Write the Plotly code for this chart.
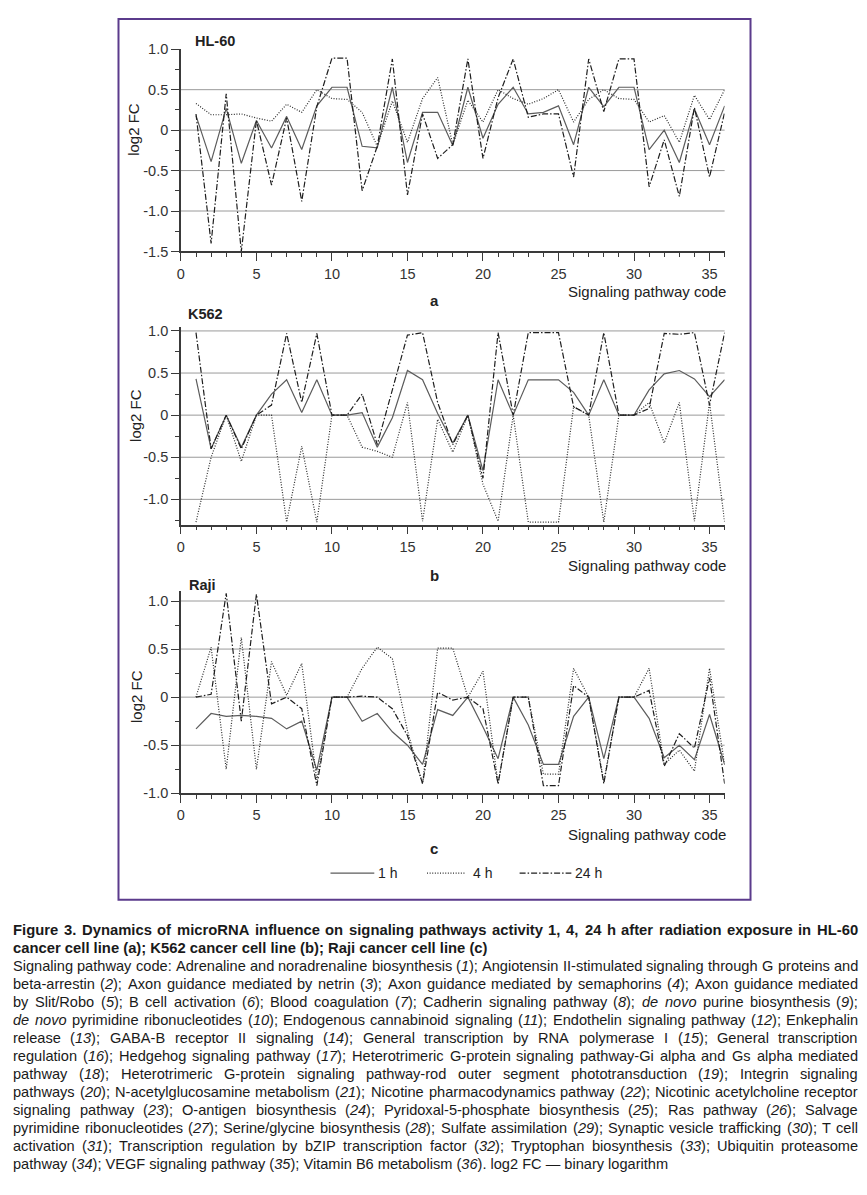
import re
import plotly.graph_objects as go

# ---------------- data ----------------
codes = list(range(1, 37))
time_labels = ["1 h", "4 h", "24 h"]
cell_lines = ["HL-60", "K562", "Raji"]
panel_letters = ["a", "b", "c"]
x_tick_values = [0, 5, 10, 15, 20, 25, 30, 35]

hl60_1h = [0.18, -0.39, 0.27, -0.41, 0.12, -0.22, 0.17, -0.24, 0.30, 0.53, 0.53, -0.20,
           -0.22, 0.53, -0.40, 0.22, 0.22, -0.19, 0.53, -0.10, 0.32, 0.53, 0.20, 0.22,
           0.30, -0.18, 0.53, 0.29, 0.53, 0.53, -0.24, 0.00, -0.40, 0.26, -0.18, 0.30]
hl60_4h = [0.33, 0.19, 0.19, 0.20, 0.15, 0.11, 0.32, 0.22, 0.50, 0.39, 0.38, 0.22,
           -0.20, 0.36, -0.15, 0.39, 0.65, -0.18, 0.37, 0.10, 0.50, 0.39, 0.32, 0.39,
           0.50, 0.10, 0.38, 0.50, 0.39, 0.38, 0.10, 0.18, -0.15, 0.43, 0.13, 0.50]
hl60_24h = [0.20, -1.40, 0.45, -1.50, 0.12, -0.68, 0.15, -0.88, 0.29, 0.89, 0.89, -0.75,
            -0.20, 0.88, -0.80, 0.20, -0.35, -0.18, 0.88, -0.35, 0.40, 0.88, 0.16, 0.20,
            0.20, -0.58, 0.88, 0.23, 0.88, 0.88, -0.70, -0.12, -0.82, 0.28, -0.58, 0.22]

k562_1h = [0.43, -0.40, 0.00, -0.38, 0.00, 0.25, 0.42, 0.03, 0.42, 0.00, 0.00, 0.03,
           -0.38, -0.03, 0.53, 0.42, 0.02, -0.33, 0.00, -0.66, 0.42, 0.00, 0.42, 0.42,
           0.42, 0.27, 0.00, 0.42, 0.00, 0.00, 0.30, 0.49, 0.53, 0.43, 0.22, 0.42]
k562_4h = [-1.27, -0.50, 0.00, -0.55, 0.00, 0.00, -1.27, -0.37, -1.27, 0.00, 0.00, -0.38,
           -0.43, -0.50, 0.15, -1.26, -0.05, -0.44, 0.00, -0.82, -1.26, 0.00, -1.27, -1.27,
           -1.27, 0.10, 0.00, -1.27, 0.00, 0.00, 0.15, -0.33, 0.15, -1.26, 0.15, -1.27]
k562_24h = [0.98, -0.40, 0.00, -0.40, 0.00, 0.12, 0.97, 0.15, 0.97, 0.00, 0.00, 0.25,
            -0.35, 0.30, 0.95, 0.98, 0.15, -0.35, 0.00, -0.75, 0.98, 0.00, 0.98, 0.98,
            0.98, 0.10, 0.00, 0.98, 0.00, 0.00, 0.08, 0.97, 0.96, 0.98, 0.12, 0.98]

raji_1h = [-0.33, -0.17, -0.20, -0.19, -0.20, -0.22, -0.33, -0.25, -0.76, 0.00, 0.00, -0.25,
           -0.17, -0.36, -0.50, -0.70, -0.13, -0.19, 0.00, -0.31, -0.64, 0.00, -0.29, -0.70,
           -0.70, -0.20, 0.00, -0.64, 0.00, 0.00, -0.22, -0.63, -0.50, -0.65, -0.18, -0.70]
raji_4h = [0.00, 0.52, -0.75, 0.62, -0.75, 0.37, 0.02, 0.35, -0.86, 0.00, 0.00, 0.30,
           0.52, 0.40, -0.35, -0.90, 0.51, 0.51, 0.00, 0.27, -0.90, 0.00, 0.00, -0.80,
           -0.80, 0.30, 0.00, -0.88, 0.00, 0.00, 0.30, -0.70, -0.55, -0.77, 0.30, -0.70]
raji_24h = [0.00, 0.03, 1.08, -0.25, 1.07, -0.07, 0.00, -0.12, -0.92, 0.00, 0.00, 0.01,
            0.00, -0.12, -0.40, -0.90, 0.05, -0.03, 0.00, -0.12, -0.90, 0.00, 0.00, -0.92,
            -0.92, 0.12, 0.00, -0.90, 0.00, 0.00, 0.07, -0.72, -0.38, -0.53, 0.20, -0.90]

series_by_panel = [
    [hl60_1h, hl60_4h, hl60_24h],
    [k562_1h, k562_4h, k562_24h],
    [raji_1h, raji_4h, raji_24h],
]
y_ranges = [[-1.5, 1.0], [-1.3, 1.05], [-1.0, 1.1]]
y_tick_values = [[-1.5, -1.0, -0.5, 0, 0.5, 1.0],
                 [-1.0, -0.5, 0, 0.5, 1.0],
                 [-1.0, -0.5, 0, 0.5, 1.0]]
grid_values = [[-1.0, -0.5, 0, 0.5],
               [-1.0, -0.5, 0, 0.5, 1.0],
               [-0.5, 0, 0.5, 1.0]]

caption_lines = [
    ("Figure 3. Dynamics of microRNA influence on signaling pathways activity 1, 4, 24 h after radiation exposure in HL-60", True, True),
    ("cancer cell line (a); K562 cancer cell line (b); Raji cancer cell line (c)", True, False),
    ("Signaling pathway code: Adrenaline and noradrenaline biosynthesis (<i>1</i>); Angiotensin II-stimulated signaling through G proteins and", False, True),
    ("beta-arrestin (<i>2</i>); Axon guidance mediated by netrin (<i>3</i>); Axon guidance mediated by semaphorins (<i>4</i>); Axon guidance mediated", False, True),
    ("by Slit/Robo (<i>5</i>); B cell activation (<i>6</i>); Blood coagulation (<i>7</i>); Cadherin signaling pathway (<i>8</i>); <i>de</i> <i>novo</i> purine biosynthesis (<i>9</i>);", False, True),
    ("<i>de</i> <i>novo</i> pyrimidine ribonucleotides (<i>10</i>); Endogenous cannabinoid signaling (<i>11</i>); Endothelin signaling pathway (<i>12</i>); Enkephalin", False, True),
    ("release (<i>13</i>); GABA-B receptor II signaling (<i>14</i>); General transcription by RNA polymerase I (<i>15</i>); General transcription", False, True),
    ("regulation (<i>16</i>); Hedgehog signaling pathway (<i>17</i>); Heterotrimeric G-protein signaling pathway-Gi alpha and Gs alpha mediated", False, True),
    ("pathway (<i>18</i>); Heterotrimeric G-protein signaling pathway-rod outer segment phototransduction (<i>19</i>); Integrin signaling", False, True),
    ("pathways (<i>20</i>); N-acetylglucosamine metabolism (<i>21</i>); Nicotine pharmacodynamics pathway (<i>22</i>); Nicotinic acetylcholine receptor", False, True),
    ("signaling pathway (<i>23</i>); O-antigen biosynthesis (<i>24</i>); Pyridoxal-5-phosphate biosynthesis (<i>25</i>); Ras pathway (<i>26</i>); Salvage", False, True),
    ("pyrimidine ribonucleotides (<i>27</i>); Serine/glycine biosynthesis (<i>28</i>); Sulfate assimilation (<i>29</i>); Synaptic vesicle trafficking (<i>30</i>); T cell", False, True),
    ("activation (<i>31</i>); Transcription regulation by bZIP transcription factor (<i>32</i>); Tryptophan biosynthesis (<i>33</i>); Ubiquitin proteasome", False, True),
    ("pathway (<i>34</i>); VEGF signaling pathway (<i>35</i>); Vitamin B6 metabolism (<i>36</i>). log2 FC \u2014 binary logarithm", False, False),
]

# ---------------- layout helpers ----------------
PAGE_W, PAGE_H = 867, 1195
BODY_MARGIN = 8                      # default browser body margin around the plot div
W, H = PAGE_W - 2 * BODY_MARGIN, PAGE_H - 2 * BODY_MARGIN
FONT = "Liberation Sans, Arial, Helvetica, sans-serif"
AX_COLOR = "#3a3a3a"
FRAME_COLOR = "#5b3b8c"


def px(x):
    """page pixel x -> paper fraction"""
    return (x - BODY_MARGIN) / W


def py(y):
    """page pixel y -> paper fraction"""
    return 1 - (y - BODY_MARGIN) / H


# pixel geometry of the three panels (page coordinates)
X_LEFT, X_RIGHT = 177.7, 724.0
panel_px = [(41.7, 246.7), (323.0, 523.6), (591.3, 796.0)]
title_px = [(190, 33), (183, 310), (184, 585)]
ylab_px = [(130, 123), (132, 413), (133, 698)]
xtitle_y = [287, 565, 838]
letter_y = [296, 575, 852]

styles = [
    dict(color="#5c5c5c", width=1.2, dash="solid"),
    dict(color="#2a2a2a", width=1.2, dash="1px,1.6px"),
    dict(color="#1e1e1e", width=1.2, dash="6px,2px,1.5px,2px"),
]

fig = go.Figure()
shapes = []
annotations = []

for i in range(3):
    xa = "x" if i == 0 else f"x{i + 1}"
    ya = "y" if i == 0 else f"y{i + 1}"
    for s, vals in enumerate(series_by_panel[i]):
        fig.add_trace(go.Scatter(
            x=codes, y=vals, mode="lines", xaxis=xa, yaxis=ya,
            name=time_labels[s], showlegend=False, line=styles[s],
            hoverinfo="x+y",
        ))
    top, bot = panel_px[i]
    xkey = "xaxis" if i == 0 else f"xaxis{i + 1}"
    ykey = "yaxis" if i == 0 else f"yaxis{i + 1}"
    fig.layout[xkey] = dict(
        domain=[px(X_LEFT), px(X_RIGHT)], anchor=ya, range=[0, 36],
        tickmode="array", tickvals=x_tick_values,
        ticktext=[str(v) for v in x_tick_values],
        ticks="outside", ticklen=8, tickwidth=1.3, tickcolor=AX_COLOR,
        showline=True, linecolor=AX_COLOR, linewidth=1.5,
        showgrid=False, zeroline=False,
        tickfont=dict(family=FONT, size=14.5, color="#333"),
        minor=dict(tickmode="linear", tick0=0, dtick=1, ticks="outside",
                   ticklen=4, tickwidth=1.2, tickcolor=AX_COLOR, showgrid=False),
    )
    fig.layout[ykey] = dict(
        domain=[py(bot), py(top)], anchor=xa, range=y_ranges[i],
        tickmode="array", tickvals=y_tick_values[i],
        ticktext=["0" if v == 0 else f"{v:.1f}" for v in y_tick_values[i]],
        ticks="outside", ticklen=8, tickwidth=1.3, tickcolor=AX_COLOR,
        showline=True, linecolor=AX_COLOR, linewidth=1.5,
        showgrid=False, zeroline=False,
        tickfont=dict(family=FONT, size=14.5, color="#333"),
        minor=dict(tickmode="linear", tick0=0, dtick=0.25, ticks="outside",
                   ticklen=4, tickwidth=1.2, tickcolor=AX_COLOR, showgrid=False),
    )
    for g in grid_values[i]:
        shapes.append(dict(type="line", xref=f"{xa} domain", x0=0, x1=1,
                           yref=ya, y0=g, y1=g, layer="below",
                           line=dict(color="#9a9a9a", width=1)))
    tx, ty = title_px[i]
    annotations.append(dict(x=px(tx), y=py(ty), xref="paper", yref="paper",
                            text=f"<b>{cell_lines[i]}</b>", showarrow=False,
                            xanchor="left", yanchor="middle",
                            font=dict(family=FONT, size=14.5, color="#222")))
    lx, ly = ylab_px[i]
    annotations.append(dict(x=px(lx), y=py(ly), xref="paper", yref="paper",
                            text="log2 FC", showarrow=False, textangle=-90,
                            xanchor="center", yanchor="middle",
                            font=dict(family=FONT, size=15, color="#222")))
    annotations.append(dict(x=px(727), y=py(xtitle_y[i]), xref="paper", yref="paper",
                            text="Signaling pathway code", showarrow=False,
                            xanchor="right", yanchor="middle",
                            font=dict(family=FONT, size=15, color="#222")))
    annotations.append(dict(x=px(432), y=py(letter_y[i]), xref="paper", yref="paper",
                            text=f"<b>{panel_letters[i]}</b>", showarrow=False,
                            xanchor="center", yanchor="middle",
                            font=dict(family=FONT, size=15, color="#222")))

# manual legend
legend_items = [(328, 372, 375), (425, 463, 470), (518, 570, 573)]
LEG_Y = 877
for s, (x0, x1, tx) in enumerate(legend_items):
    shapes.append(dict(type="line", xref="paper", yref="paper",
                       x0=px(x0), x1=px(x1), y0=py(LEG_Y), y1=py(LEG_Y),
                       line=dict(color=styles[s]["color"], width=1.2, dash=styles[s]["dash"])))
    annotations.append(dict(x=px(tx), y=py(LEG_Y), xref="paper", yref="paper",
                            text=time_labels[s], showarrow=False,
                            xanchor="left", yanchor="middle", borderpad=0,
                            font=dict(family=FONT, size=14, color="#222")))

# purple frame
shapes.append(dict(type="rect", xref="paper", yref="paper",
                   x0=px(115), x1=px(750), y0=py(904), y1=py(11),
                   line=dict(color=FRAME_COLOR, width=2)))

# ---------------- caption (justified, Arial metrics) ----------------
REG = {" ": 278, "(": 333, ")": 333, ",": 278, "-": 333, ".": 278, "/": 278, ":": 278,
       ";": 278, "\u2014": 1000}
BOLD = {" ": 278, "(": 333, ")": 333, ",": 278, "-": 333, ".": 278, "/": 278, ":": 333,
        ";": 333, "\u2014": 1000}
for ch in "0123456789":
    REG[ch] = 556
    BOLD[ch] = 556
REG.update(dict(zip("ABCDEFGHIJKLMNOPQRSTUVWXYZ",
                    [667, 667, 722, 722, 667, 611, 778, 722, 278, 500, 667, 556, 833,
                     722, 778, 667, 778, 722, 667, 611, 722, 667, 944, 667, 667, 611])))
REG.update(dict(zip("abcdefghijklmnopqrstuvwxyz",
                    [556, 556, 500, 556, 556, 278, 556, 556, 222, 222, 500, 222, 833,
                     556, 556, 556, 556, 333, 500, 278, 556, 500, 722, 500, 500, 500])))
BOLD.update(dict(zip("ABCDEFGHIJKLMNOPQRSTUVWXYZ",
                     [722, 722, 722, 722, 667, 611, 778, 722, 278, 556, 722, 611, 833,
                      722, 778, 667, 778, 722, 667, 611, 722, 667, 944, 667, 667, 611])))
BOLD.update(dict(zip("abcdefghijklmnopqrstuvwxyz",
                     [556, 611, 556, 611, 556, 333, 611, 611, 278, 278, 556, 278, 889,
                      611, 611, 611, 611, 389, 556, 333, 611, 556, 778, 556, 556, 500])))


def units(s, table):
    plain = re.sub(r"<[^>]+>", "", s)
    return sum(table.get(c, 556) for c in plain)


CAP_LEFT, CAP_RIGHT = 9.0, 858.0
CAP_W = CAP_RIGHT - CAP_LEFT
CAP_Y0, CAP_DY = 935.0, 18.25
REG_SIZE, BOLD_SIZE = 14.6, 14.8

for k, (line, bold, justify) in enumerate(caption_lines):
    table = BOLD if bold else REG
    size = BOLD_SIZE if bold else REG_SIZE
    yline = CAP_Y0 + k * CAP_DY
    words = line.split(" ")
    wu = [units(w, table) for w in words]
    natural = (sum(wu) + 278 * (len(words) - 1)) * size / 1000.0
    if natural > CAP_W:
        size = size * CAP_W / natural
    font = dict(family=FONT, size=size, color="#1a1a1a")
    if not justify:
        annotations.append(dict(x=px(CAP_LEFT), y=py(yline), xref="paper", yref="paper",
                                text=f"<b>{line}</b>" if bold else line,
                                showarrow=False, xanchor="left", yanchor="middle",
                                borderpad=0, borderwidth=0, font=font))
        continue
    wpx = [u * size / 1000.0 for u in wu]
    gap = (CAP_W - sum(wpx)) / (len(words) - 1)
    xcur = CAP_LEFT
    for j, w in enumerate(words):
        last = j == len(words) - 1
        annotations.append(dict(x=px(CAP_RIGHT if last else xcur), y=py(yline),
                                xref="paper", yref="paper",
                                text=f"<b>{w}</b>" if bold else w,
                                showarrow=False,
                                xanchor="right" if last else "left", yanchor="middle",
                                borderpad=0, borderwidth=0, font=font))
        xcur += wpx[j] + gap

fig.update_layout(
    width=W, height=H, autosize=False,
    margin=dict(l=0, r=0, t=0, b=0),
    paper_bgcolor="white", plot_bgcolor="white",
    showlegend=False,
    shapes=shapes, annotations=annotations,
    font=dict(family=FONT, color="#222"),
)

fig.write_html("out.html", config={"displayModeBar": False})
